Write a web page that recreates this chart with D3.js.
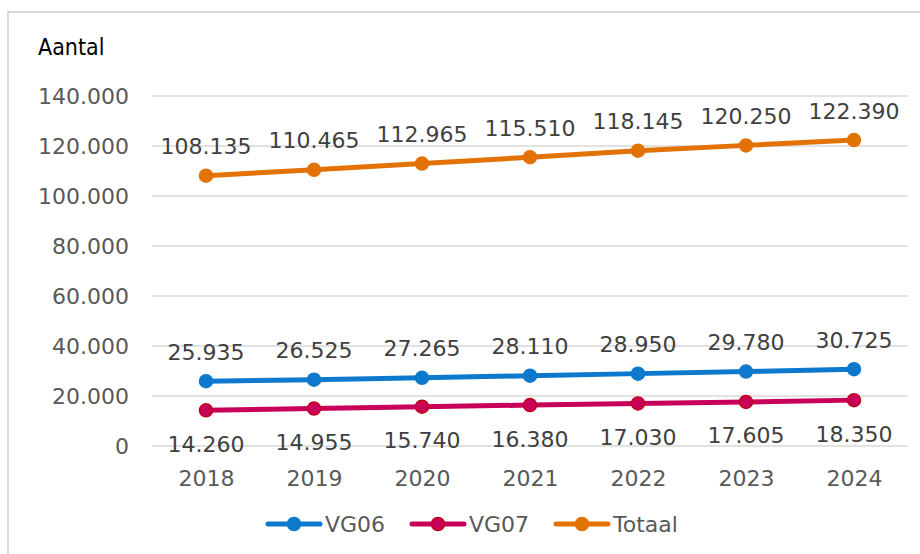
<!DOCTYPE html>
<html>
<head>
<meta charset="utf-8">
<script src="https://cdn.jsdelivr.net/npm/d3@7"></script>
<style>
  body { margin: 0; background: #fff; }
  svg { display: block; }
</style>
</head>
<body>
<div id="chart"></div>
<script>
// data
const years = ['2018', '2019', '2020', '2021', '2022', '2023', '2024']
const vg06 = [25935, 26525, 27265, 28110, 28950, 29780, 30725]
const vg07 = [14260, 14955, 15740, 16380, 17030, 17605, 18350]
const totaal = [108135, 110465, 112965, 115510, 118145, 120250, 122390]
const yTicks = [0, 20000, 40000, 60000, 80000, 100000, 120000, 140000]

const series = [
  { name: 'VG06', values: vg06, color: '#0d79cc', stroke: '#0d79cc', labelPos: 'above' },
  { name: 'VG07', values: vg07, color: '#c8005a', stroke: '#c00018', labelPos: 'below' },
  { name: 'Totaal', values: totaal, color: '#e37205', stroke: '#e37205', labelPos: 'above' }
]

const width = 920
const height = 554
const font = 'DejaVu Sans, Verdana, sans-serif'

const nl = d3.formatLocale({ decimal: ',', thousands: '.', grouping: [3], currency: ['', ''] })
const fmt = nl.format(',d')

const svg = d3.select('#chart').append('svg')
  .attr('width', width)
  .attr('height', height)

// outer frame (only top and left edges visible)
svg.append('path')
  .attr('d', 'M8,554V12H920')
  .attr('fill', 'none')
  .attr('stroke', '#d9d9d9')
  .attr('stroke-width', 2)

const x = d3.scalePoint().domain(years).range([152, 908]).padding(0.5)
const y = d3.scaleLinear().domain([0, 140000]).range([446, 96])

// gridlines
svg.append('g')
  .selectAll('line')
  .data(yTicks)
  .join('line')
  .attr('x1', 152)
  .attr('x2', 908)
  .attr('y1', d => y(d))
  .attr('y2', d => y(d))
  .attr('stroke', '#d9d9d9')
  .attr('stroke-width', 1.5)

// y axis labels
const yAxis = svg.append('g')
  .attr('transform', 'translate(152,0)')
  .call(d3.axisLeft(y).tickValues(yTicks).tickFormat(fmt).tickSize(0).tickPadding(23))
yAxis.select('.domain').remove()
yAxis.selectAll('text')
  .attr('fill', '#595959')
  .style('font-family', font)
  .style('font-size', '22px')

// x axis labels
const xAxis = svg.append('g')
  .attr('transform', 'translate(0,446)')
  .call(d3.axisBottom(x).tickSize(0).tickPadding(24))
xAxis.select('.domain').remove()
xAxis.selectAll('text')
  .attr('fill', '#595959')
  .style('font-family', font)
  .style('font-size', '22px')

// axis title
svg.append('text')
  .attr('x', 38)
  .attr('y', 47)
  .attr('dominant-baseline', 'central')
  .attr('fill', '#000')
  .style('font-family', 'DejaVu Sans Condensed, DejaVu Sans, sans-serif')
  .style('font-size', '23px')
  .text('Aantal')

// lines, markers, labels
const line = d3.line()
  .x((d, i) => x(years[i]))
  .y(d => y(d))

series.forEach(s => {
  const g = svg.append('g')
  g.append('path')
    .datum(s.values)
    .attr('d', line)
    .attr('fill', 'none')
    .attr('stroke', s.color)
    .attr('stroke-width', 5)
    .attr('stroke-linecap', 'round')

  g.selectAll('circle')
    .data(s.values)
    .join('circle')
    .attr('cx', (d, i) => x(years[i]))
    .attr('cy', d => y(d))
    .attr('r', 6.5)
    .attr('fill', s.color)
    .attr('stroke', s.stroke)
    .attr('stroke-width', 1.5)

  g.selectAll('text')
    .data(s.values)
    .join('text')
    .attr('x', (d, i) => x(years[i]))
    .attr('y', d => s.labelPos === 'above' ? y(d) - 29 : y(d) + 34)
    .attr('text-anchor', 'middle')
    .attr('dominant-baseline', 'central')
    .attr('fill', '#404040')
    .style('font-family', font)
    .style('font-size', '22px')
    .text(d => fmt(d))
})

// legend
const legendX = [268, 412, 556]
const legend = svg.append('g')
series.forEach((s, i) => {
  const lg = legend.append('g').attr('transform', `translate(${legendX[i]},524)`)
  lg.append('line')
    .attr('x1', 0).attr('x2', 52)
    .attr('stroke', s.color)
    .attr('stroke-width', 5)
    .attr('stroke-linecap', 'round')
  lg.append('circle')
    .attr('cx', 26)
    .attr('r', 6.5)
    .attr('fill', s.color)
    .attr('stroke', s.stroke)
    .attr('stroke-width', 1.5)
  lg.append('text')
    .attr('x', 57)
    .attr('dominant-baseline', 'central')
    .attr('fill', '#595959')
    .style('font-family', font)
    .style('font-size', '22px')
    .text(s.name)
})
</script>
</body>
</html>
